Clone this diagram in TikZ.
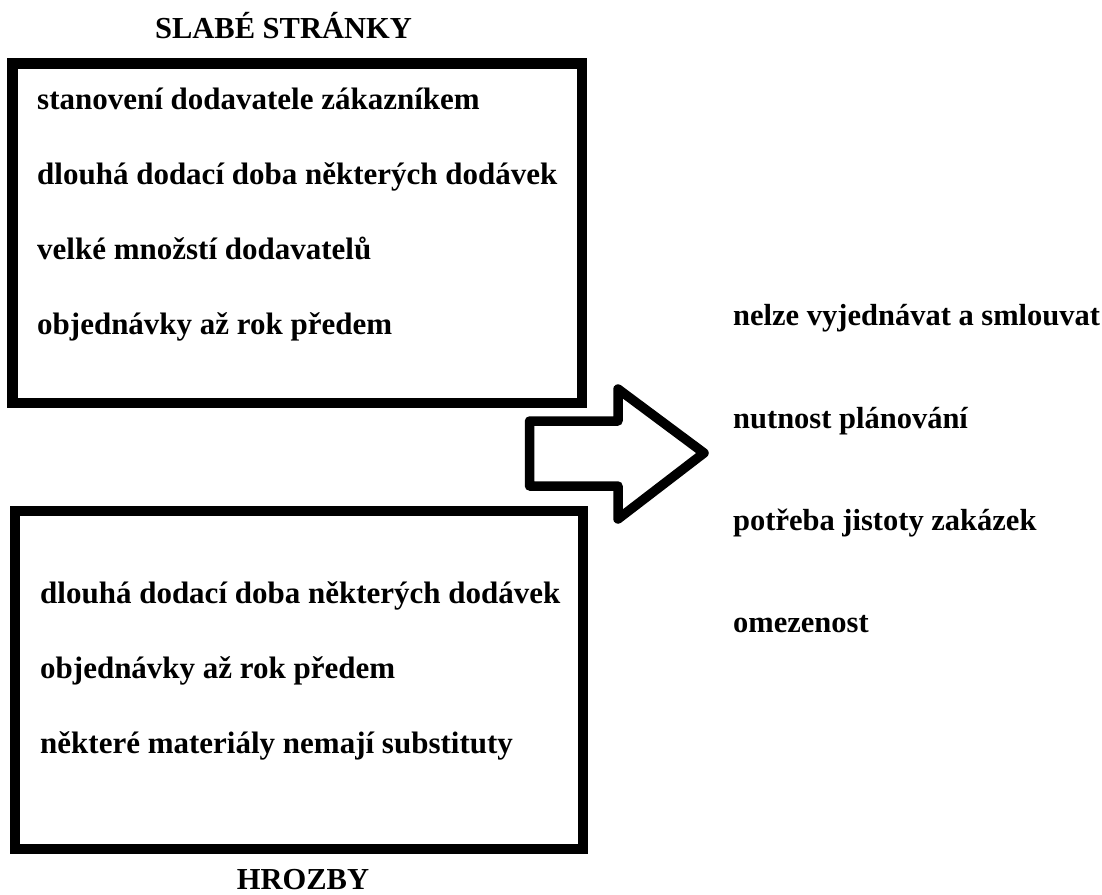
\documentclass[tikz,border=0pt]{standalone}
\usepackage{fontspec}
\setmainfont{Liberation Serif}
\begin{document}
\begin{tikzpicture}[x=1pt,y=-1pt,
  lbl/.style={anchor=base west,inner sep=0pt,font=\fontsize{31}{36}\selectfont\bfseries},
  rlbl/.style={anchor=base west,inner sep=0pt,font=\fontsize{30.5}{36}\selectfont\bfseries},
  ttl/.style={anchor=base,inner sep=0pt,font=\fontsize{30.5}{36}\selectfont\bfseries},
  frame/.style={draw=black,line width=10.5pt},
  bigarrow/.style={draw=black,line width=9.5pt,line join=round}]
\useasboundingbox (0,0) rectangle (1102,894);
\node[ttl] (t1) at (283.5,38) {SLABÉ STRÁNKY};
\draw[frame] (12.5,63.5) rectangle (582,403);
\node[lbl] (a1) at (37,109) {stanovení dodavatele zákazníkem};
\node[lbl] (a2) at (37,184) {dlouhá dodací doba některých dodávek};
\node[lbl] (a3) at (37,259) {velké množstí dodavatelů};
\node[lbl] (a4) at (37,334) {objednávky až rok předem};
\draw[frame] (15,511) rectangle (583,849);
\node[lbl] (b1) at (40,603) {dlouhá dodací doba některých dodávek};
\node[lbl] (b2) at (40,678) {objednávky až rok předem};
\node[lbl] (b3) at (40,753) {některé materiály nemají substituty};
\node[ttl] (t2) at (303,889) {HROZBY};
\draw[bigarrow] (529.5,421) -- (618,421) -- (618,389) -- (704,453) -- (618,519) -- (618,486) -- (529.5,486) -- cycle;
\node[rlbl] (c1) at (733,325) {nelze vyjednávat a smlouvat};
\node[rlbl] (c2) at (733,428) {nutnost plánování};
\node[rlbl] (c3) at (733,530) {potřeba jistoty zakázek};
\node[rlbl] (c4) at (733,632) {omezenost};
\end{tikzpicture}
\end{document}
